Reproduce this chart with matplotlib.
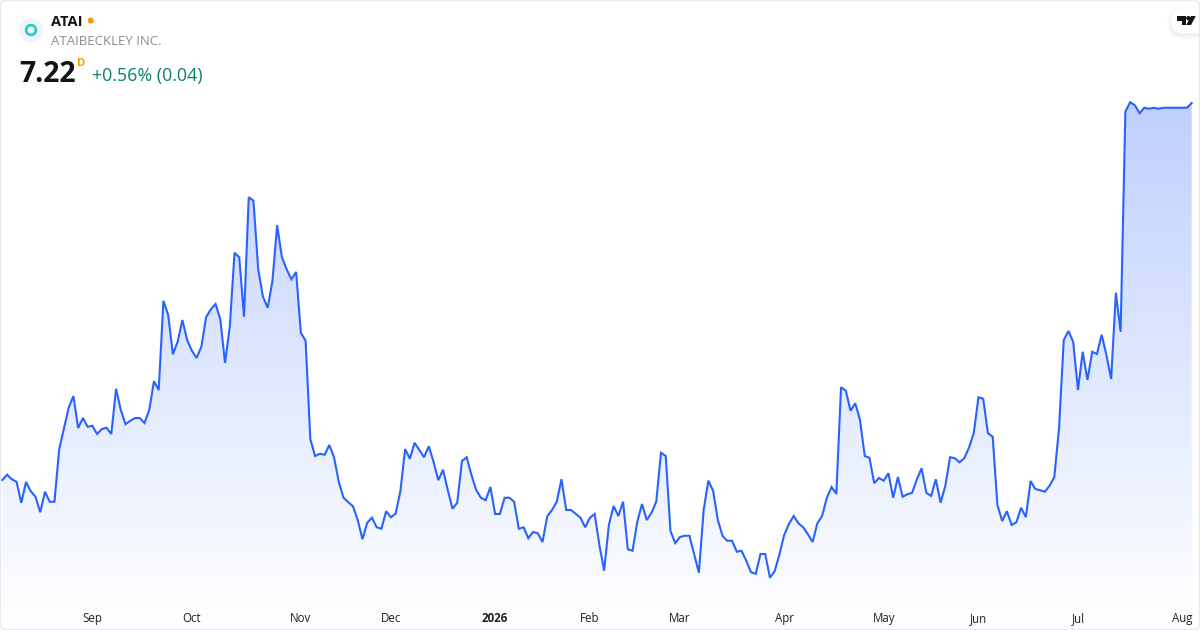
import numpy as np
import matplotlib
matplotlib.use("Agg")
import matplotlib.pyplot as plt
from matplotlib.patches import Circle, FancyBboxPatch, Polygon
from matplotlib.colors import LinearSegmentedColormap

prices = [
4.204,4.246,4.210,4.190,4.022,4.188,4.114,4.070,3.946,4.110,4.030,4.030,4.450,4.618,4.782,4.876,4.620,4.700,4.630,4.638,
4.572,4.612,4.622,4.572,4.934,4.764,4.650,4.678,4.700,4.700,4.660,4.764,4.994,4.924,5.638,5.524,5.210,5.310,5.484,5.324,
5.238,5.180,5.270,5.506,5.570,5.612,5.490,5.140,5.430,6.022,5.986,5.510,6.466,6.438,5.890,5.670,5.582,5.796,6.242,5.986,
5.890,5.810,5.868,5.382,5.318,
4.530,4.396,4.414,4.406,4.484,4.386,4.190,4.062,4.026,3.994,3.884,3.730,3.862,3.902,3.826,3.814,3.954,3.906,3.934,4.114,
4.452,4.374,4.502,4.444,4.386,4.474,4.350,4.202,4.286,4.124,3.974,4.022,4.356,4.386,4.244,4.124,4.062,4.042,4.148,3.932,
3.932,4.062,4.062,4.030,3.814,3.826,3.738,3.788,3.778,3.708,3.914,3.964,4.030,4.210,3.964,3.964,3.934,3.902,3.826,3.902,
3.932,3.684,
3.478,3.844,3.996,3.916,4.030,3.650,3.638,3.870,4.012,3.884,3.942,4.030,4.422,4.396,3.796,3.700,3.748,3.758,3.758,3.610,
3.462,3.964,4.198,4.118,3.884,3.756,3.718,3.718,3.630,3.638,3.558,3.466,3.454,3.612,3.612,3.422,3.476,3.610,3.764,3.852,
3.916,3.858,3.826,3.770,3.708,3.858,3.916,4.062,4.148,4.092,4.946,4.918,4.758,4.818,4.684,4.396,4.382,4.178,4.220,4.198,
4.258,4.062,4.228,
4.070,4.090,4.102,4.210,4.298,4.102,4.076,4.210,4.022,4.156,4.386,4.378,4.346,4.378,4.462,4.578,4.866,4.854,4.578,4.550,
4.004,3.876,3.954,3.844,3.866,3.982,3.906,4.196,4.132,4.122,4.110,4.158,4.226,4.618,5.324,5.396,5.308,4.924,5.230,5.004,
5.230,5.212,5.366,5.204,5.012,5.702,5.390,
7.150,7.226,7.202,7.138,7.182,7.174,7.182,7.174,7.182,7.182,7.182,7.182,7.182,7.182,7.220,
]
tick_index = [19, 40, 63, 82, 104, 124, 143, 165, 186, 206, 227, 249]
tick_labels = ["Sep", "Oct", "Nov", "Dec", "2026", "Feb", "Mar", "Apr", "May", "Jun", "Jul", "Aug"]

FONT = "Open Sans"
LINE = "#2962FF"
DARK = "#131313"
x = np.arange(len(prices))
step = (1191.7 - 2.33) / (len(prices) - 1)
xlo, xhi = (0 - 2.33) / step, (1200 - 2.33) / step
y_at = lambda py: 8.044 - 0.008 * py

fig = plt.figure(figsize=(12, 6.3), dpi=100, facecolor="white")
ax = fig.add_axes([0, 0, 1, 1])
ax.set_xlim(xlo, xhi)
ax.set_ylim(y_at(630), y_at(0))
ax.axis("off")

# gradient fill under the line
base = y_at(628)
poly = ax.fill_between(x, prices, base, color="none", lw=0)
cmap = LinearSegmentedColormap.from_list("g", ["#ffffff", "#bfd0fe"])
grad = np.linspace(1, 0, 256).reshape(-1, 1)
im = ax.imshow(grad, extent=[x[0], x[-1], base, max(prices)], aspect="auto", cmap=cmap,
               vmin=0, vmax=1, origin="upper", zorder=1)
im.set_clip_path(poly.get_paths()[0], transform=ax.transData)
ax.set_xlim(xlo, xhi)
ax.set_ylim(y_at(630), y_at(0))
ax.plot(x, prices, color=LINE, lw=1.5, solid_joinstyle="miter", zorder=2)

# tick labels via data positions
for i, lab in zip(tick_index, tick_labels):
    ax.text(i, y_at(622), lab, ha="center", va="baseline", fontsize=8.3, family=FONT,
            color="#1c1f26", fontweight="bold" if lab == "2026" else "normal")

# overlay in pixel space for header
ov = fig.add_axes([0, 0, 1, 1], facecolor="none")
ov.set_xlim(0, 1200)
ov.set_ylim(630, 0)
ov.axis("off")
ov.add_patch(Circle((31, 30), 12, fc="#f0f3fa", ec="none"))
ov.add_patch(Circle((31, 30), 4.9, fc="none", ec="#22d1b8", lw=1.9))
ov.text(51, 25.8, "ATAI", fontsize=10.5, fontweight="bold", family=FONT, color=DARK, va="baseline")
ov.add_patch(Circle((90.8, 20.5), 3, fc="#ff9800", ec="none"))
ov.text(51, 45, "ATAIBECKLEY INC.", fontsize=9.5, family=FONT, color="#8a8c93", va="baseline")
ov.text(19, 81.7, "7.22", fontsize=20.4, fontweight="bold", family=FONT, color=DARK, va="baseline")
ov.text(77, 66, "D", fontsize=8, fontweight="bold", family=FONT, color="#ff9800", va="baseline")
ov.text(92, 81, "+0.56% (0.04)", fontsize=12.9, family=FONT, color="#0a8068", va="baseline")

# corner tab with soft shadow and logo
for grow, a in [(4, 0.012), (3, 0.018), (2, 0.025), (1, 0.03)]:
    ov.add_patch(FancyBboxPatch((1171 - grow, 9 - grow + 2.5), 50, 24 + 2 * grow,
                                boxstyle=f"round,pad=0,rounding_size={12 + grow}",
                                fc="#606060", ec="none", alpha=a))
ov.add_patch(FancyBboxPatch((1171, 9), 50, 24, boxstyle="round,pad=0,rounding_size=12",
                            fc="white", ec="none"))
ov.add_patch(Polygon([(1177, 16), (1186, 16), (1186, 25), (1181.5, 25), (1181.5, 20.5), (1177, 20.5)],
                     fc=DARK, ec="none"))
ov.add_patch(Circle((1188.4, 18.2), 2.2, fc=DARK, ec="none"))
ov.add_patch(Polygon([(1191, 16), (1195.8, 16), (1191, 25), (1186.2, 25)], fc=DARK, ec="none"))
ov.add_patch(FancyBboxPatch((0.5, 0.5), 1199, 629, boxstyle="round,pad=0,rounding_size=5",
                            fc="none", ec="#e8e9ec", lw=0.9))
fig.savefig("out.png", dpi=100)
